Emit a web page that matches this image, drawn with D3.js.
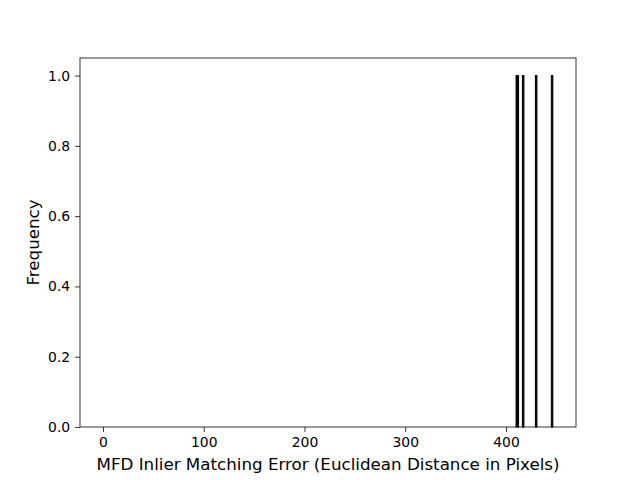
<!DOCTYPE html>
<html><head><meta charset="utf-8">
<script src="https://cdn.jsdelivr.net/npm/d3@7"></script>
<style>body{margin:0;background:#fff}text{font-family:"DejaVu Sans",sans-serif}</style>
</head><body>
<svg id="c" width="640" height="480"></svg>
<script>
const binLo = [410.0, 416.3, 429.2, 445.0];
const binHi = [412.5, 417.8, 430.7, 446.5];
const counts = [1, 1, 1, 1];
const xTicks = [0, 100, 200, 300, 400];
const yTicks = [0.0, 0.2, 0.4, 0.6, 0.8, 1.0];

const svg = d3.select("#c");
const L = 80, R = 576, T = 58, B = 427;
const x = d3.scaleLinear().domain([-22.8, 469.5]).range([L, R]);
const y = d3.scaleLinear().domain([0, 1.05]).range([B, T]);

const bars = binLo.map((d, i) => ({lo: d, hi: binHi[i], c: counts[i]}));
svg.append("g").selectAll("rect").data(bars).join("rect")
  .attr("x", d => x(d.lo)).attr("width", d => x(d.hi) - x(d.lo))
  .attr("y", d => y(d.c)).attr("height", d => y(0) - y(d.c))
  .attr("fill", "#000").attr("stroke", "#000").attr("stroke-width", 1);

const xa = svg.append("g").attr("transform", `translate(0,${B})`)
  .call(d3.axisBottom(x).tickValues(xTicks).tickSize(4.9).tickPadding(4.9).tickFormat(d3.format("d")));
const ya = svg.append("g").attr("transform", `translate(${L},0)`)
  .call(d3.axisLeft(y).tickValues(yTicks).tickSize(4.9).tickPadding(4.9).tickFormat(d3.format(".1f")));
[xa, ya].forEach(a => {
  a.selectAll("text").attr("font-size", "13.9px").attr("fill", "#000").attr("font-family", "DejaVu Sans");
  a.selectAll("line").attr("stroke", "#000").attr("stroke-width", 0.8);
  a.select(".domain").remove();
});
svg.append("rect").attr("x", L).attr("y", T).attr("width", R - L).attr("height", B - T)
  .attr("fill", "none").attr("stroke", "#000").attr("stroke-width", 0.8);

svg.append("text").attr("x", (L + R) / 2).attr("y", 470).attr("text-anchor", "middle")
  .attr("font-size", "16.7px").text("MFD Inlier Matching Error (Euclidean Distance in Pixels)");
svg.append("text").attr("transform", `translate(39,${(T + B) / 2}) rotate(-90)`).attr("text-anchor", "middle")
  .attr("font-size", "16.7px").text("Frequency");
</script>
</body></html>
